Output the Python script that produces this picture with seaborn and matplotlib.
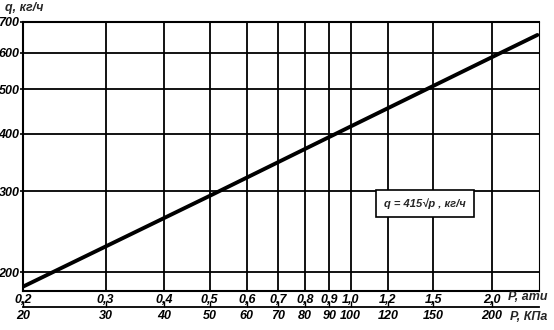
import matplotlib
matplotlib.use("Agg")
import matplotlib.pyplot as plt
import seaborn as sns
import pandas as pd
import numpy as np

# data
p_ati = [0.2, 0.5, 1.0, 2.0, 2.5]
q_kgh = [186, 293, 415, 587, 656]

x_ticks = [0.2, 0.3, 0.4, 0.5, 0.6, 0.7, 0.8, 0.9, 1.0, 1.2, 1.5, 2.0]
x_labels = ["0,2", "0,3", "0,4", "0,5", "0,6", "0,7", "0,8", "0,9", "1,0", "1,2", "1,5", "2,0"]
kpa_ticks = [20, 30, 40, 50, 60, 70, 80, 90, 100, 120, 150, 200]
y_ticks = [200, 300, 400, 500, 600, 700]

sns.set_theme(style="white")
plt.rcParams['font.family'] = ['Liberation Sans Narrow', 'Liberation Sans', 'DejaVu Sans']

fig = plt.figure(figsize=(5.54, 3.30), dpi=100)
ax = fig.add_axes([23/554, 39/330, (539-23)/554, (291-22)/330])

df = pd.DataFrame({"p": p_ati, "q": q_kgh})
sns.lineplot(data=df, x="p", y="q", ax=ax, color="black", linewidth=2.8)

ax.set_xscale("log")
ax.set_yscale("log")
ax.set_xlim(0.2, 2.52)
ax.set_ylim(182, 700)

ax.set_xticks(x_ticks)
ax.set_xticklabels(x_labels)
ax.set_xticks([], minor=True)
ax.set_yticks(y_ticks)
ax.set_yticklabels([str(v) for v in y_ticks])
ax.set_yticks([], minor=True)
ax.set_xlabel("")
ax.set_ylabel("")

for v in x_ticks[1:]:
    ax.axvline(v, color="black", lw=1.3, zorder=1)
for v in y_ticks[:-1]:
    ax.axhline(v, color="black", lw=1.3, zorder=1)

for s in ["left", "top", "bottom"]:
    ax.spines[s].set_color("black")
    ax.spines[s].set_linewidth(1.5)
ax.spines["right"].set_color("black")
ax.spines["right"].set_linewidth(0.8)

fs = 9
lab = dict(fontstyle="italic", fontweight="bold", fontsize=fs)
ax.tick_params(axis="x", length=0, pad=2)
ax.tick_params(axis="y", length=2, pad=0.5, width=1.2, color="black", direction="out", left=True)
for t in ax.get_xticklabels() + ax.get_yticklabels():
    t.set_fontstyle("italic"); t.set_fontweight("bold"); t.set_fontsize(fs); t.set_color("black")

sec = ax.secondary_xaxis(-0.059, functions=(lambda x: x * 100, lambda x: x / 100))
sec.set_xticks(kpa_ticks)
sec.set_xticklabels([str(v) for v in kpa_ticks])
sec.set_xticks([], minor=True)
sec.spines["bottom"].set_linewidth(1.3)
sec.spines["bottom"].set_color("black")
sec.tick_params(axis="x", direction="in", length=4, width=1, pad=2, color="black")
for t in sec.get_xticklabels():
    t.set_fontstyle("italic"); t.set_fontweight("bold"); t.set_fontsize(fs); t.set_color("black")

fig.text(5/554, 1 - 8/330, "q, кг/ч", ha="left", va="center", **lab)
fig.text(508/554, 1 - 297/330, "P, ати", ha="left", va="center", **lab)
fig.text(510/554, 1 - 317/330, "P, КПа", ha="left", va="center", **lab)

ax.text(0.70, 0.325, "q = 415√p , кг/ч", transform=ax.transAxes, ha="left", va="center",
        fontstyle="italic", fontsize=8, fontweight="bold",
        bbox=dict(boxstyle="square,pad=0.7", facecolor="white", edgecolor="black", linewidth=1.2),
        zorder=5)

fig.savefig("out.png", dpi=100)
